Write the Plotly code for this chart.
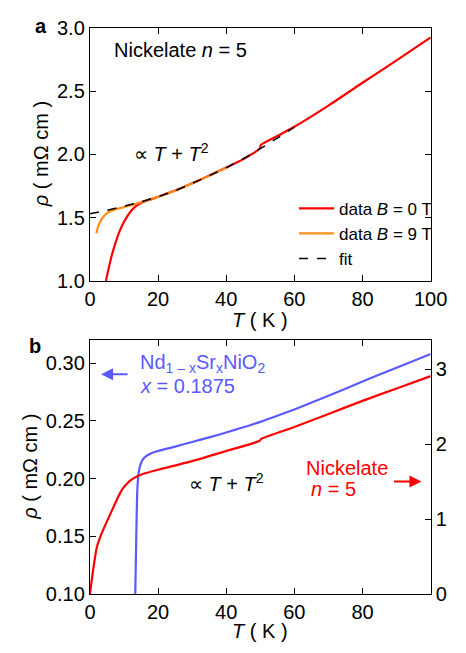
import plotly.graph_objects as go

# ---------------- data ----------------
# Panel a: nickelate n = 5
T_a_B0 = [4.7, 5.5, 6.5, 7.5, 8.5, 9.5, 10.5, 12, 13.5, 15, 17, 19, 22, 25, 30, 35, 40, 45, 49.8, 50.2, 55, 60, 70, 80, 90, 100]
rho_a_B0 = [1.00, 1.10, 1.21, 1.30, 1.38, 1.44, 1.49, 1.55, 1.59, 1.615, 1.637, 1.654, 1.684, 1.714, 1.772, 1.832, 1.895, 1.962, 2.045, 2.075, 2.145, 2.218, 2.385, 2.565, 2.742, 2.924]

T_a_B9 = [1.9, 2.3, 2.8, 3.5, 4.2, 5, 6, 7, 8, 10, 12, 15, 20, 25, 30, 35, 40]
rho_a_B9 = [1.376, 1.42, 1.455, 1.49, 1.515, 1.535, 1.551, 1.561, 1.569, 1.583, 1.597, 1.622, 1.665, 1.712, 1.77, 1.83, 1.893]

T_fit = [0, 5, 10, 15, 20, 25, 30, 35, 40, 45, 50, 55, 60]
rho_fit = [1.530, 1.558, 1.590, 1.625, 1.665, 1.712, 1.770, 1.830, 1.895, 1.965, 2.045, 2.128, 2.215]

# Panel b: Nd1-xSrxNiO2 (left axis) and nickelate n = 5 (right axis)
T_b_nd = [13.3, 13.6, 13.9, 14.3, 14.8, 15.5, 16.5, 18, 20, 25, 30, 35, 40, 45, 50, 55, 60, 70, 80, 90, 100]
rho_b_nd = [0.100, 0.150, 0.190, 0.205, 0.212, 0.2165, 0.2195, 0.2220, 0.2240, 0.2278, 0.2318, 0.2358, 0.2400, 0.2445, 0.2492, 0.2545, 0.2600, 0.2718, 0.2842, 0.2962, 0.3080]

T_b_ni = [0, 1, 2, 3, 4, 5, 6, 7, 8, 9, 10, 11, 12, 14, 16, 20, 30, 40, 49.8, 50.2, 60, 70, 80, 90, 100]
rho_b_ni = [0.0, 0.34, 0.62, 0.76, 0.87, 0.97, 1.07, 1.17, 1.27, 1.36, 1.43, 1.48, 1.52, 1.575, 1.61, 1.66, 1.775, 1.91, 2.045, 2.07, 2.23, 2.405, 2.58, 2.745, 2.91]

xticks_a = [0, 20, 40, 60, 80, 100]
yticks_a = [1.0, 1.5, 2.0, 2.5, 3.0]
xticks_b = [0, 20, 40, 60, 80]
yticks_b_left = [0.10, 0.15, 0.20, 0.25, 0.30]
yticks_b_right = [0, 1, 2, 3]

# ---------------- layout helpers ----------------
W, H = 466, 653
FONT = "Liberation Sans, Arial, sans-serif"
RED = "#ff0000"
ORANGE = "#ff8c1a"
BLUE = "#5a5aff"


def px(x):
    return x / W


def py(y):
    return 1 - y / H


fig = go.Figure()

fig.add_trace(go.Scatter(x=T_a_B0, y=rho_a_B0, mode="lines", name="data <i>B</i> = 0 T",
                         line=dict(color=RED, width=2.2, shape="spline", smoothing=0.6),
                         xaxis="x", yaxis="y"))
fig.add_trace(go.Scatter(x=T_a_B9, y=rho_a_B9, mode="lines", name="data <i>B</i> = 9 T",
                         line=dict(color=ORANGE, width=2.2, shape="spline", smoothing=0.6),
                         xaxis="x", yaxis="y"))
fig.add_trace(go.Scatter(x=T_fit, y=rho_fit, mode="lines", name="fit",
                         line=dict(color="black", width=1.5, dash="dash", shape="spline", smoothing=0.6),
                         xaxis="x", yaxis="y"))

fig.add_trace(go.Scatter(x=T_b_ni, y=rho_b_ni, mode="lines", showlegend=False,
                         line=dict(color=RED, width=2.2, shape="spline", smoothing=0.5),
                         xaxis="x2", yaxis="y3"))
fig.add_trace(go.Scatter(x=T_b_nd, y=rho_b_nd, mode="lines", showlegend=False,
                         line=dict(color=BLUE, width=2.2, shape="spline", smoothing=0.5),
                         xaxis="x2", yaxis="y2"))

xdom = [px(88.3), px(446.7)]
ydom_a = [py(279.3), py(17.3)]
ydom_b = [py(603.3), py(340.7)]

axis_common = dict(showline=True, linecolor="black", linewidth=1.3, ticks="inside",
                   ticklen=6, tickwidth=1.2, tickcolor="black", showgrid=False,
                   zeroline=False, tickfont=dict(size=20, color="black", family=FONT))

fig.update_layout(
    width=W, height=H,
    margin=dict(l=0, r=0, t=0, b=0),
    paper_bgcolor="white", plot_bgcolor="white",
    font=dict(family=FONT, size=20, color="black"),
    xaxis=dict(domain=xdom, anchor="y", range=[0, 100], tickvals=xticks_a, mirror="ticks", **axis_common),
    yaxis=dict(domain=ydom_a, anchor="x", range=[1.0, 3.0], tickvals=yticks_a, tickformat=".1f",
               mirror="ticks", **axis_common),
    xaxis2=dict(domain=xdom, anchor="y2", range=[0, 100], tickvals=xticks_b, mirror="ticks", **axis_common),
    yaxis2=dict(domain=ydom_b, anchor="x2", range=[0.10, 0.32], tickvals=yticks_b_left, tickformat=".2f",
                mirror=False, **axis_common),
    yaxis3=dict(overlaying="y2", anchor="x2", side="right", range=[0, 3.39], tickvals=yticks_b_right,
                **axis_common),
    legend=dict(x=px(303), y=py(186), xanchor="left", yanchor="top", bgcolor="rgba(0,0,0,0)",
                font=dict(size=17, family=FONT, color="black"), itemwidth=35, tracegroupgap=0),
    showlegend=True,
)

ann = []
# panel labels
ann.append(dict(x=px(37), y=py(16), text="<b>a</b>", font=dict(size=20)))
ann.append(dict(x=px(30), y=py(347), text="<b>b</b>", font=dict(size=20)))
# axis titles
ann.append(dict(x=px(37), y=py(148), text="<i>ρ</i> ( mΩ cm )", textangle=-90))
ann.append(dict(x=px(267.5), y=py(320), text="<i>T</i> ( K )"))
ann.append(dict(x=px(25), y=py(472), text="<i>ρ</i> ( mΩ cm )", textangle=-90))
ann.append(dict(x=px(267.5), y=py(642), text="<i>T</i> ( K )"))
# panel a texts
ann.append(dict(x=px(112), y=py(40), text="Nickelate <i>n</i> = 5", xanchor="left"))
ann.append(dict(x=px(133), y=py(146), text="∝ <i>T</i> + <i>T</i><sup>2</sup>", xanchor="left"))
# panel b texts
ann.append(dict(x=px(190), y=py(488), text="∝ <i>T</i> + <i>T</i><sup>2</sup>", xanchor="left"))
ann.append(dict(x=px(139), y=py(365), text="Nd<sub>1 – x</sub>Sr<sub>x</sub>NiO<sub>2</sub>",
                xanchor="left", font=dict(color=BLUE)))
ann.append(dict(x=px(139), y=py(388), text="<i>x</i> = 0.1875", xanchor="left", font=dict(color=BLUE)))
ann.append(dict(x=px(313), y=py(473), text="Nickelate", xanchor="left", font=dict(color=RED)))
ann.append(dict(x=px(319), y=py(495), text="<i>n</i> = 5", xanchor="left", font=dict(color=RED)))

for a in ann:
    a.setdefault("xref", "paper")
    a.setdefault("yref", "paper")
    a.setdefault("showarrow", False)
    a.setdefault("xanchor", "center")
    a.setdefault("yanchor", "middle")
    f = dict(family=FONT, size=20, color="black")
    f.update(a.get("font", {}))
    a["font"] = f

# arrows
ann.append(dict(xref="paper", yref="paper", x=px(100), y=py(376), ax=28, ay=0, text="",
                showarrow=True, arrowhead=2, arrowsize=1.2, arrowwidth=2, arrowcolor=BLUE))
ann.append(dict(xref="paper", yref="paper", x=px(437), y=py(487), ax=-29, ay=0, text="",
                showarrow=True, arrowhead=2, arrowsize=1.2, arrowwidth=2, arrowcolor=RED))

fig.update_layout(annotations=ann)

fig.write_html("out.html")
